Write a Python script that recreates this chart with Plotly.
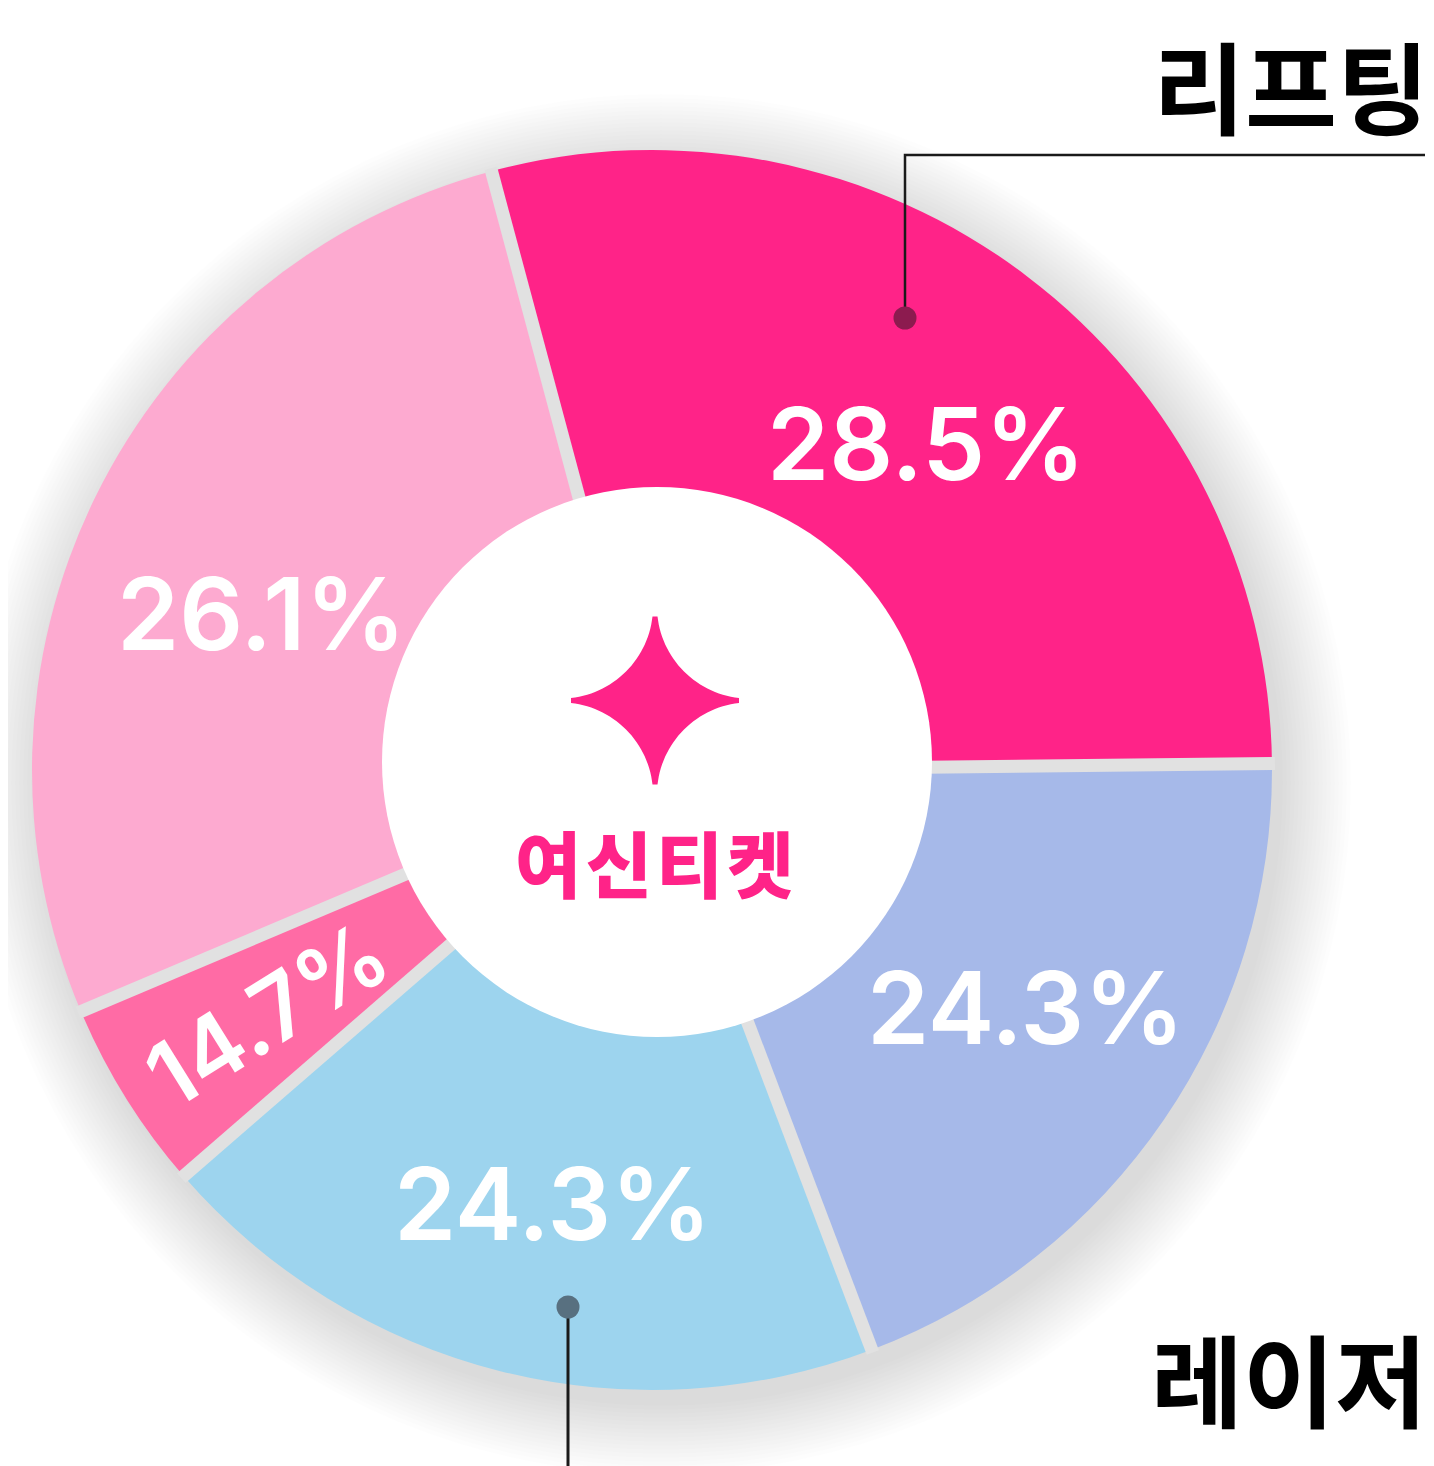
import math
import plotly.graph_objects as go

# slice data (clockwise from the top-left boundary)
slice_names = ['리프팅', '항목 2', '레이저', '항목 4', '항목 5']
slice_shares = [29.0, 19.4, 19.4, 5.0, 27.2]
pct_labels = ['28.5%', '24.3%', '24.3%', '14.7%', '26.1%']
slice_colors = ['#FF2388', '#A6B9E9', '#9DD4EE', '#FF6BA5', '#FDAAD0']

W, H = 1434, 1466
OFF = 8  # page body margin; axis units below are window pixels
CX, CY = 652, 770
R_OUT, R_IN = 620, 280
HX, HY, HR = 657, 762, 275  # white centre disc
START = -15  # first boundary, degrees clockwise from 12 o'clock

# small nudges so the % labels sit where the original put them
label_shift = [(27, -1), (8, -12), (9, 4), (13, -4), (-17, 26)]


def polar(angle, r):
    a = math.radians(angle)
    return CX + r * math.sin(a), CY - r * math.cos(a)


total = sum(slice_shares)
bounds = [START]
for v in slice_shares:
    bounds.append(bounds[-1] + 360 * v / total)

FW, FH = W - OFF, H - OFF

fig = go.Figure()

# invisible trace so the pixel axes exist
fig.add_trace(go.Scatter(x=[OFF], y=[OFF], mode='markers', marker=dict(opacity=0),
                         hoverinfo='skip', showlegend=False))

fig.add_trace(go.Pie(
    labels=slice_names,
    values=slice_shares,
    marker=dict(colors=slice_colors, line=dict(width=0)),
    hole=255 / R_OUT,
    sort=False,
    direction='clockwise',
    rotation=START,
    textinfo='none',
    showlegend=False,
    domain=dict(x=[(CX - OFF - R_OUT) / FW, (CX - OFF + R_OUT) / FW],
                y=[(H - CY - R_OUT) / FH, (H - CY + R_OUT) / FH]),
))

shapes = []

# soft drop shadow, pushed down and right
for i in range(18):
    r = 690 - 4 * i
    shapes.append(dict(type='circle', xref='x', yref='y', layer='below',
                       x0=CX + 9 - r, x1=CX + 9 + r, y0=CY + 14 - r, y1=CY + 14 + r,
                       fillcolor='rgba(0,0,0,0.006)', line=dict(width=0)))

# grey gaps between slices
for a in bounds[:-1]:
    x0, y0 = polar(a, 250)
    x1, y1 = polar(a, R_OUT + 3)
    shapes.append(dict(type='line', xref='x', yref='y', layer='above',
                       x0=x0, y0=y0, x1=x1, y1=y1,
                       line=dict(color='#e1e1e1', width=13)))

# white centre
shapes.append(dict(type='circle', xref='x', yref='y', layer='above',
                   x0=HX - HR, x1=HX + HR, y0=HY - HR, y1=HY + HR,
                   fillcolor='white', line=dict(width=0)))

# four-pointed star logo built from four concave arcs
sx, sy = 655, 700.5
ac, rho = 94.5, 92.6
ph1, ph2 = 186.5, 263.5


def arc(su, sv, forward):
    pts = []
    for t in range(31):
        p = math.radians(ph1 + (ph2 - ph1) * t / 30)
        u = ac + rho * math.cos(p)
        v = ac + rho * math.sin(p)
        pts.append((sx + su * u, sy - sv * v))
    return pts if forward else pts[::-1]


star_pts = arc(1, 1, True) + arc(1, -1, False) + arc(-1, -1, True) + arc(-1, 1, False)
star = 'M ' + ' L '.join(f'{x:.1f},{y:.1f}' for x, y in star_pts) + ' Z'
shapes.append(dict(type='path', xref='x', yref='y', layer='above', path=star,
                   fillcolor='#FF2388', line=dict(width=0)))

# callout leaders
shapes.append(dict(type='path', xref='x', yref='y', layer='above',
                   path='M 905,318 L 905,155 L 1425,155',
                   line=dict(color='#1a1a1a', width=2.5)))
shapes.append(dict(type='line', xref='x', yref='y', layer='above',
                   x0=568, x1=568, y0=1307, y1=H + 5,
                   line=dict(color='#1a1a1a', width=3)))
for (dx, dy, dc) in [(905, 318, '#8c1b4f'), (568, 1307, '#587080')]:
    shapes.append(dict(type='circle', xref='x', yref='y', layer='above',
                       x0=dx - 11.5, x1=dx + 11.5, y0=dy - 11.5, y1=dy + 11.5,
                       fillcolor=dc, line=dict(width=0)))

annotations = []
for i, txt in enumerate(pct_labels):
    a0, a1 = bounds[i], bounds[i + 1]
    mid = (a0 + a1) / 2
    half = math.radians(a1 - a0) / 2
    # centroid radius of the ring sector
    rc = (2 / 3) * (R_OUT ** 3 - R_IN ** 3) / (R_OUT ** 2 - R_IN ** 2) * math.sin(half) / half
    lx, ly = polar(mid, rc)
    lx += label_shift[i][0]
    ly += label_shift[i][1]
    narrow = slice_shares[i] < 10
    annotations.append(dict(x=lx, y=ly, xref='x', yref='y', text=txt,
                            showarrow=False, textangle=mid - 270 if narrow else 0,
                            font=dict(family='Inter', size=90 if narrow else 100,
                                      color='white', weight=600)))

annotations.append(dict(x=654, y=860, xref='x', yref='y',
                        text='여\u200a신\u200a티\u200a켓', showarrow=False,
                        font=dict(family='Noto Sans CJK KR', size=72, color='#FF2388', weight=900)))
annotations.append(dict(x=1430, y=OFF + 2, xref='x', yref='y', text='리프팅', showarrow=False,
                        xanchor='right', yanchor='top', borderpad=0,
                        font=dict(family='Noto Sans CJK KR', size=100, color='black', weight=700)))
annotations.append(dict(x=1428, y=1376, xref='x', yref='y', text='레이저', showarrow=False,
                        xanchor='right', borderpad=0,
                        font=dict(family='Noto Sans CJK KR', size=100, color='black', weight=700)))

fig.update_layout(
    width=FW, height=FH,
    margin=dict(l=0, r=0, t=0, b=0),
    paper_bgcolor='white', plot_bgcolor='white',
    xaxis=dict(range=[OFF, W], visible=False, fixedrange=True),
    yaxis=dict(range=[H, OFF], visible=False, fixedrange=True),
    shapes=shapes,
    annotations=annotations,
    showlegend=False,
)

fig.write_html("out.html")
